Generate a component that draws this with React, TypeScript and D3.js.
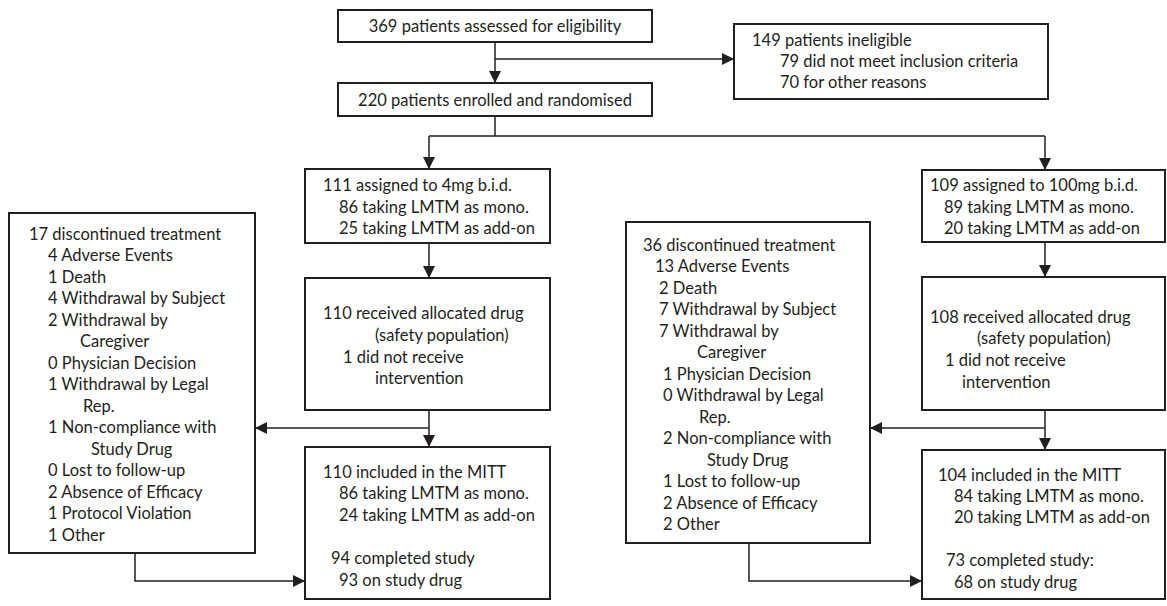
import React, { useEffect, useRef } from 'react'
import * as d3 from 'd3'

// box contents (text lines)
const assessedText = ['369 patients assessed for eligibility']
const enrolledText = ['220 patients enrolled and randomised']
const ineligibleText = ['149 patients ineligible', '79 did not meet inclusion criteria', '70 for other reasons']
const arm1Text = ['111 assigned to 4mg b.i.d.', '86 taking LMTM as mono.', '25 taking LMTM as add-on']
const arm2Text = ['109 assigned to 100mg b.i.d.', '89 taking LMTM as mono.', '20 taking LMTM as add-on']
const recv1Text = ['110 received allocated drug', '(safety population)', '1 did not receive', 'intervention']
const recv2Text = ['108 received allocated drug', '(safety population)', '1 did not receive', 'intervention']
const mitt1Text = ['110 included in the MITT', '86 taking LMTM as mono.', '24 taking LMTM as add-on', '94 completed study', '93 on study drug']
const mitt2Text = ['104 included in the MITT', '84 taking LMTM as mono.', '20 taking LMTM as add-on', '73 completed study:', '68 on study drug']
const disc1Text = [
  '17 discontinued treatment', '4 Adverse Events', '1 Death', '4 Withdrawal by Subject',
  '2 Withdrawal by', 'Caregiver', '0 Physician Decision', '1 Withdrawal by Legal', 'Rep.',
  '1 Non-compliance with', 'Study Drug', '0 Lost to follow-up', '2 Absence of Efficacy',
  '1 Protocol Violation', '1 Other'
]
const disc2Text = [
  '36 discontinued treatment', '13 Adverse Events', '2 Death', '7 Withdrawal by Subject',
  '7 Withdrawal by', 'Caregiver', '1 Physician Decision', '0 Withdrawal by Legal', 'Rep.',
  '2 Non-compliance with', 'Study Drug', '1 Lost to follow-up', '2 Absence of Efficacy', '2 Other'
]

const INK = '#231f20'

// layout: box geometry, text x offsets and line y positions
const boxes = [
  { text: assessedText, x: 338, y: 10, w: 314, h: 32, center: true, ys: [26] },
  { text: enrolledText, x: 338, y: 83, w: 314, h: 33, center: true, ys: [100] },
  { text: ineligibleText, x: 734, y: 24, w: 314, h: 75, xs: [18, 46, 46], ys: [40, 61, 82] },
  { text: arm1Text, x: 305, y: 169, w: 245, h: 74, xs: [18, 34, 34], ys: [185, 207, 228] },
  { text: arm2Text, x: 922, y: 170, w: 243, h: 72, xs: [8, 22, 22], ys: [185, 207, 228] },
  { text: recv1Text, x: 305, y: 278, w: 245, h: 132, xs: [18, 70, 38, 70], ys: [313, 335, 357, 378] },
  { text: recv2Text, x: 922, y: 277, w: 243, h: 133, xs: [8, 55, 23, 40], ys: [317, 338, 360, 382] },
  { text: mitt1Text, x: 305, y: 447, w: 245, h: 152, xs: [18, 34, 34, 26, 34], ys: [472, 493, 515, 558, 580] },
  { text: mitt2Text, x: 922, y: 450, w: 243, h: 149, xs: [16, 32, 32, 24, 32], ys: [475, 496, 517, 560, 582] },
  {
    text: disc1Text, x: 9, y: 213, w: 246, h: 340,
    xs: [20, 39, 39, 39, 39, 71, 39, 39, 74, 39, 82, 39, 39, 39, 39],
    ys: d3.range(15).map(i => 234 + i * 21.5)
  },
  {
    text: disc2Text, x: 626, y: 222, w: 244, h: 321,
    xs: [17, 29, 33, 33, 33, 71, 37, 37, 73, 37, 81, 37, 37, 37],
    ys: d3.range(14).map(i => 245 + i * 21.5)
  }
]

// connectors: polylines, arrow at the end when arrow = true
const connectors = [
  { pts: [[495, 42], [495, 83]], arrow: true },
  { pts: [[495, 59], [734, 59]], arrow: true },
  { pts: [[495, 116], [495, 136]], arrow: false },
  { pts: [[429, 136], [1045, 136]], arrow: false },
  { pts: [[429, 136], [429, 169]], arrow: true },
  { pts: [[1045, 136], [1045, 170]], arrow: true },
  { pts: [[429, 243], [429, 278]], arrow: true },
  { pts: [[1045, 242], [1045, 277]], arrow: true },
  { pts: [[429, 410], [429, 447]], arrow: true },
  { pts: [[1045, 410], [1045, 450]], arrow: true },
  { pts: [[429, 428], [255, 428]], arrow: true },
  { pts: [[1045, 428], [870, 428]], arrow: true },
  { pts: [[135, 553], [135, 581], [305, 581]], arrow: true },
  { pts: [[749, 543], [749, 581], [922, 581]], arrow: true }
]

function App() {
  const svgRef = useRef(null)

  useEffect(() => {
    const svg = d3.select(svgRef.current)
    svg.selectAll('*').remove()

    svg.append('defs')
      .append('marker')
      .attr('id', 'arrow')
      .attr('viewBox', '0 0 12 12')
      .attr('refX', 12)
      .attr('refY', 6)
      .attr('markerWidth', 12)
      .attr('markerHeight', 12)
      .attr('markerUnits', 'userSpaceOnUse')
      .attr('orient', 'auto')
      .append('path')
      .attr('d', 'M0,0 L12,6 L0,12 Z')
      .attr('fill', INK)

    const lineGen = d3.line()

    svg.selectAll('.conn')
      .data(connectors)
      .join('path')
      .attr('class', 'conn')
      .attr('d', d => lineGen(d.pts))
      .attr('fill', 'none')
      .attr('stroke', INK)
      .attr('stroke-width', 1.5)
      .attr('marker-end', d => (d.arrow ? 'url(#arrow)' : null))

    const g = svg.selectAll('.box')
      .data(boxes)
      .join('g')
      .attr('class', 'box')

    g.append('rect')
      .attr('x', d => d.x)
      .attr('y', d => d.y)
      .attr('width', d => d.w)
      .attr('height', d => d.h)
      .attr('fill', '#fff')
      .attr('stroke', INK)
      .attr('stroke-width', 2)

    g.selectAll('text')
      .data(d => d.text.map((t, i) => ({
        t,
        x: d.center ? d.x + d.w / 2 : d.x + d.xs[i],
        y: d.ys[i],
        anchor: d.center ? 'middle' : 'start'
      })))
      .join('text')
      .attr('x', d => d.x)
      .attr('y', d => d.y)
      .attr('dy', '0.35em')
      .attr('text-anchor', d => d.anchor)
      .attr('font-family', 'Lato, "Open Sans", sans-serif')
      .attr('font-size', 16.5)
      .attr('fill', INK)
      .text(d => d.t)
  }, [])

  return (
    <svg
      ref={svgRef}
      width={1167}
      height={606}
      style={{ position: 'absolute', left: 0, top: 0, background: '#fff' }}
    />
  )
}

export default App
